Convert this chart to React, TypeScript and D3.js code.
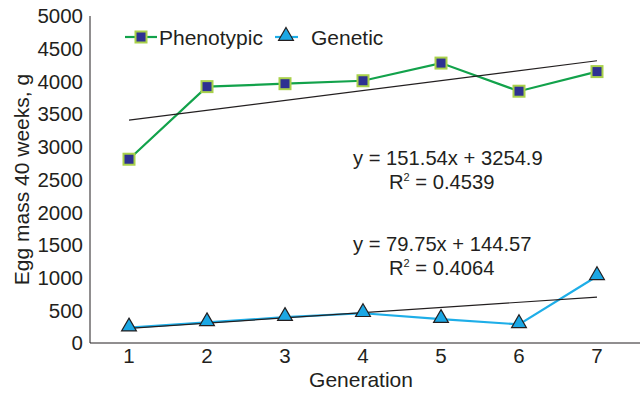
import React, { useEffect, useRef } from "react";
import * as d3 from "d3";

const generations = [1, 2, 3, 4, 5, 6, 7];
const phenotypic = [2810, 3920, 3965, 4010, 4280, 3850, 4150];
const genetic = [235, 315, 395, 455, 365, 285, 1020];
const yTicks = [0, 500, 1000, 1500, 2000, 2500, 3000, 3500, 4000, 4500, 5000];
// trend lines as printed on the chart: slope, intercept, R²
const phenoTrend = { slope: 151.54, intercept: 3254.9, r2: "0.4539" };
const geneTrend = { slope: 79.75, intercept: 144.57, r2: "0.4064" };

const W = 640;
const H = 394;
const margin = { top: 16, right: 4, bottom: 51, left: 90 };
const font = "'Liberation Sans', Arial, sans-serif";
const ink = "#231f20";

const App = () => {
  const ref = useRef<SVGSVGElement>(null);

  useEffect(() => {
    const svg = d3.select(ref.current);
    svg.selectAll("*").remove();

    const x = d3.scaleBand<number>()
      .domain(generations)
      .range([margin.left, W - margin.right]);
    const cx = (g: number) => (x(g) as number) + x.bandwidth() / 2;

    const y = d3.scaleLinear()
      .domain([0, 5000])
      .range([H - margin.bottom, margin.top]);

    // axes
    svg.append("line")
      .attr("x1", margin.left).attr("x2", margin.left)
      .attr("y1", y(5000)).attr("y2", y(0))
      .attr("stroke", ink).attr("stroke-width", 1);
    svg.append("line")
      .attr("x1", margin.left).attr("x2", W)
      .attr("y1", y(0)).attr("y2", y(0))
      .attr("stroke", ink).attr("stroke-width", 1);

    svg.append("g").selectAll("text")
      .data(yTicks)
      .enter().append("text")
      .attr("x", margin.left - 7)
      .attr("y", (d) => y(d))
      .attr("dy", "0.36em")
      .attr("text-anchor", "end")
      .attr("font-size", 20.5)
      .attr("fill", ink)
      .text((d) => d);

    svg.append("g").selectAll("text")
      .data(generations)
      .enter().append("text")
      .attr("x", (d) => cx(d))
      .attr("y", y(0) + 20)
      .attr("text-anchor", "middle")
      .attr("font-size", 20.5)
      .attr("fill", ink)
      .text((d) => d);

    svg.append("text")
      .attr("x", cx(4) - 2)
      .attr("y", 387)
      .attr("text-anchor", "middle")
      .attr("font-size", 21)
      .attr("fill", ink)
      .text("Generation");

    svg.append("text")
      .attr("transform", `translate(29, ${(y(0) + y(5000)) / 2}) rotate(-90)`)
      .attr("text-anchor", "middle")
      .attr("font-size", 21)
      .attr("fill", ink)
      .text("Egg mass 40 weeks, g");

    const line = d3.line<number>()
      .x((_, i) => cx(generations[i]))
      .y((d) => y(d));

    // trend lines
    const trend = (t: { slope: number; intercept: number }) => {
      const g0 = generations[0];
      const g1 = generations[generations.length - 1];
      svg.append("line")
        .attr("x1", cx(g0)).attr("y1", y(t.slope * g0 + t.intercept))
        .attr("x2", cx(g1)).attr("y2", y(t.slope * g1 + t.intercept))
        .attr("stroke", ink).attr("stroke-width", 1.2);
    };

    // genetic series
    svg.append("path")
      .datum(genetic)
      .attr("d", line)
      .attr("fill", "none")
      .attr("stroke", "#1eaee8")
      .attr("stroke-width", 2.2);
    trend(geneTrend);

    const tri = d3.symbol().type(d3.symbolTriangle).size(95);
    svg.append("g").selectAll("path")
      .data(genetic)
      .enter().append("path")
      .attr("d", tri)
      .attr("transform", (d, i) => `translate(${cx(generations[i])}, ${y(d) - 1})`)
      .attr("fill", "#1ba7e4")
      .attr("stroke", ink)
      .attr("stroke-width", 1.2);

    // phenotypic series
    svg.append("path")
      .datum(phenotypic)
      .attr("d", line)
      .attr("fill", "none")
      .attr("stroke", "#12a24b")
      .attr("stroke-width", 2.2);
    trend(phenoTrend);

    svg.append("g").selectAll("rect")
      .data(phenotypic)
      .enter().append("rect")
      .attr("x", (d, i) => cx(generations[i]) - 5.5)
      .attr("y", (d) => y(d) - 5.5)
      .attr("width", 11)
      .attr("height", 11)
      .attr("fill", "#2e3192")
      .attr("stroke", "#a9d14b")
      .attr("stroke-width", 2);

    // legend
    const ly = 37;
    svg.append("line")
      .attr("x1", 125).attr("x2", 157).attr("y1", ly).attr("y2", ly)
      .attr("stroke", "#12a24b").attr("stroke-width", 2.2);
    svg.append("rect")
      .attr("x", 141 - 5.5).attr("y", ly - 5.5)
      .attr("width", 11).attr("height", 11)
      .attr("fill", "#2e3192").attr("stroke", "#a9d14b").attr("stroke-width", 2);
    svg.append("text")
      .attr("x", 159).attr("y", ly).attr("dy", "0.36em")
      .attr("font-size", 21).attr("fill", ink)
      .text("Phenotypic");

    svg.append("line")
      .attr("x1", 275).attr("x2", 298).attr("y1", ly).attr("y2", ly)
      .attr("stroke", "#1eaee8").attr("stroke-width", 2.2);
    svg.append("path")
      .attr("d", tri)
      .attr("transform", `translate(286, ${ly - 1})`)
      .attr("fill", "#1ba7e4").attr("stroke", ink).attr("stroke-width", 1.2);
    svg.append("text")
      .attr("x", 311).attr("y", ly).attr("dy", "0.36em")
      .attr("font-size", 21).attr("fill", ink)
      .text("Genetic");

    // equations
    const equation = (t: { slope: number; intercept: number; r2: string }, top: number) => {
      svg.append("text")
        .attr("x", 353).attr("y", top)
        .attr("font-size", 20.2).attr("fill", ink)
        .text(`y = ${t.slope}x + ${t.intercept}`);
      const r = svg.append("text")
        .attr("x", 389).attr("y", top + 24)
        .attr("font-size", 20.2).attr("fill", ink);
      r.append("tspan").text("R");
      r.append("tspan").attr("font-size", 11).attr("dy", -8).text("2");
      r.append("tspan").attr("dy", 8).text(` = ${t.r2}`);
    };
    equation(phenoTrend, 165);
    equation(geneTrend, 251);
  }, []);

  return (
    <svg
      ref={ref}
      width={W}
      height={H}
      style={{ position: "absolute", left: 0, top: 0, background: "#fff", fontFamily: font }}
    />
  );
};

export default App;
